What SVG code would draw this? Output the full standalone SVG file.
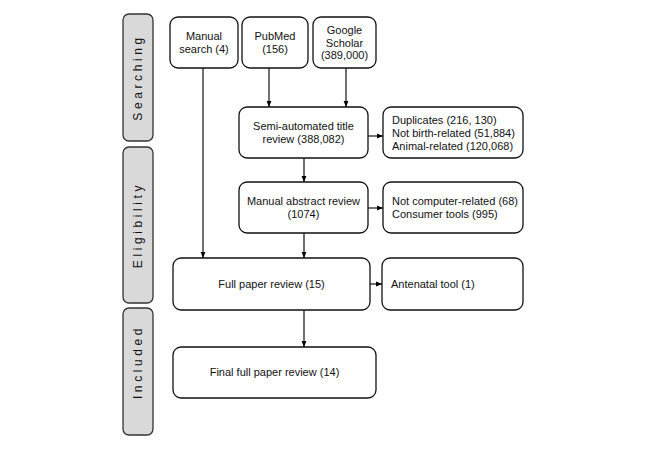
<svg xmlns="http://www.w3.org/2000/svg" width="651" height="450" viewBox="0 0 651 450">
<defs>
<marker id="ah" viewBox="0 0 10 10" refX="10" refY="5" markerWidth="6" markerHeight="6" orient="auto" markerUnits="userSpaceOnUse">
<path d="M0,1 L10,5 L0,9 z" fill="#000"/>
</marker>
</defs>
<style>
.box{fill:#fff;stroke:#111;stroke-width:1.3}
.side{fill:#d9d9d9;stroke:#333;stroke-width:1.3}
.t{font-family:"Liberation Sans",Arial,sans-serif;font-size:11px;fill:#111;text-anchor:middle}
.l{text-anchor:start}
.s{font-family:"Liberation Sans",Arial,sans-serif;font-size:12px;fill:#111;text-anchor:middle;letter-spacing:3.6px}
.c{stroke:#111;stroke-width:1.2;fill:none;marker-end:url(#ah)}
</style>
<rect width="651" height="450" fill="#fff"/>
<g id="side-searching"><rect class="side" x="123" y="14" width="30" height="127" rx="6"/><text class="s" transform="translate(142,77.5) rotate(-90)">Searching</text></g>
<g id="side-eligibility"><rect class="side" x="123" y="147" width="30" height="156" rx="6"/><text class="s" transform="translate(142,225) rotate(-90)">Eligibility</text></g>
<g id="side-included"><rect class="side" x="123" y="308" width="30" height="127" rx="6"/><text class="s" transform="translate(142,362) rotate(-90)">Included</text></g>
<g id="manual"><rect class="box" x="170" y="17" width="68" height="51" rx="8"/><text class="t" x="204" y="40">Manual</text><text class="t" x="204" y="53">search (4)</text></g>
<g id="pubmed"><rect class="box" x="242" y="17" width="66" height="51" rx="8"/><text class="t" x="275" y="40">PubMed</text><text class="t" x="275" y="53">(156)</text></g>
<g id="google"><rect class="box" x="313" y="17" width="63" height="51" rx="8"/><text class="t" x="344.5" y="34">Google</text><text class="t" x="344.5" y="47">Scholar</text><text class="t" x="344.5" y="59">(389,000)</text></g>
<g id="semi"><rect class="box" x="239" y="107" width="129" height="51" rx="8"/><text class="t" x="303.5" y="130">Semi-automated title</text><text class="t" x="303.5" y="143">review (388,082)</text></g>
<g id="excl1"><rect class="box" x="383" y="107" width="140" height="51" rx="8"/><text class="t l" x="392" y="124">Duplicates (216, 130)</text><text class="t l" x="392" y="137">Not birth-related (51,884)</text><text class="t l" x="392" y="150">Animal-related (120,068)</text></g>
<g id="abstract"><rect class="box" x="239" y="182" width="129" height="51" rx="8"/><text class="t" x="303.5" y="205">Manual abstract review</text><text class="t" x="303.5" y="218">(1074)</text></g>
<g id="excl2"><rect class="box" x="383" y="182" width="140" height="51" rx="8"/><text class="t l" x="392" y="205">Not computer-related (68)</text><text class="t l" x="392" y="218">Consumer tools (995)</text></g>
<g id="full"><rect class="box" x="173" y="258" width="197" height="52" rx="8"/><text class="t" x="271.5" y="288">Full paper review (15)</text></g>
<g id="excl3"><rect class="box" x="382" y="258" width="141" height="52" rx="8"/><text class="t l" x="391" y="288">Antenatal tool (1)</text></g>
<g id="final"><rect class="box" x="173" y="347" width="203" height="51" rx="8"/><text class="t" x="274.5" y="376">Final full paper review (14)</text></g>
<g id="connectors">
<path class="c" d="M203,68 V258"/>
<path class="c" d="M269,68 V107"/>
<path class="c" d="M346,68 V107"/>
<path class="c" d="M304,158 V182"/>
<path class="c" d="M304,233 V258"/>
<path class="c" d="M304,310 V347"/>
<path class="c" d="M368,136 H383"/>
<path class="c" d="M368,208 H383"/>
<path class="c" d="M370,284 H382"/>
</g>
</svg>
